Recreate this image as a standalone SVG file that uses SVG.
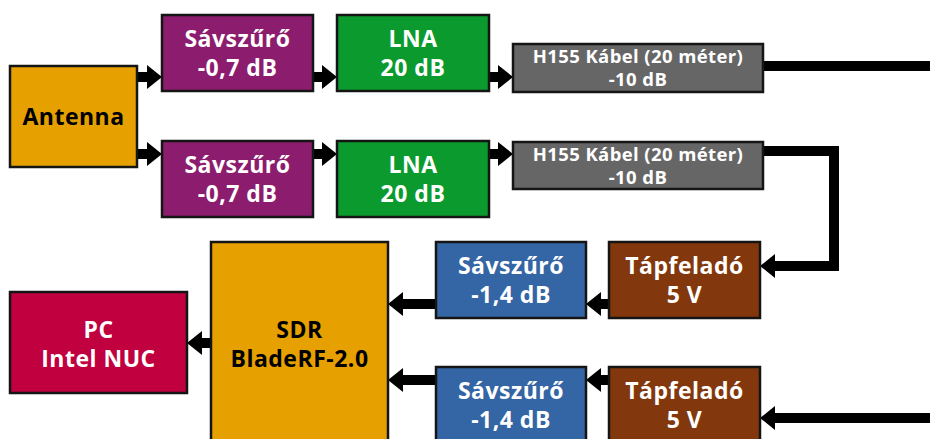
<svg xmlns="http://www.w3.org/2000/svg" width="930" height="439" viewBox="0 0 930 439">
<style>
.box{stroke:#151515;stroke-width:2.5}
.t{font-family:"Open Sans","Liberation Sans",sans-serif;font-weight:bold;font-size:23px;letter-spacing:0.5px;fill:#fff;text-anchor:middle}
.s{font-size:18.5px;letter-spacing:0.4px}
.dark{fill:#000}
.c{fill:none;stroke:#000;stroke-width:10}
</style>
<defs>
<marker id="ah" markerUnits="userSpaceOnUse" markerWidth="16" markerHeight="26" refX="0" refY="13" orient="auto" overflow="visible">
<path d="M0,1 L15,13 L0,25 z" fill="#000"/>
</marker>
</defs>
<rect width="930" height="439" fill="#fff"/>
<g id="connectors">
<path class="c" d="M137,77 H147" marker-end="url(#ah)"/>
<path class="c" d="M313,77 H322" marker-end="url(#ah)"/>
<path class="c" d="M489,77 H498" marker-end="url(#ah)"/>
<path class="c" d="M763,66 H930"/>
<path class="c" d="M137,154 H147" marker-end="url(#ah)"/>
<path class="c" d="M313,154 H322" marker-end="url(#ah)"/>
<path class="c" d="M489,154 H498" marker-end="url(#ah)"/>
<path class="c" d="M763,151 H834 V266 H775" marker-end="url(#ah)"/>
<path class="c" d="M609,304 H601" marker-end="url(#ah)"/>
<path class="c" d="M436,304 H403" marker-end="url(#ah)"/>
<path class="c" d="M930,418 H775" marker-end="url(#ah)"/>
<path class="c" d="M609,380 H601" marker-end="url(#ah)"/>
<path class="c" d="M436,380 H403" marker-end="url(#ah)"/>
<path class="c" d="M211,343 H202" marker-end="url(#ah)"/>
</g>
<g id="antenna">
<rect class="box" x="10" y="66" width="127" height="101" fill="#E6A100"/>
<text class="t dark" x="73.5" y="125">Antenna</text>
</g>
<g id="savszuro1">
<rect class="box" x="162" y="15" width="151" height="76" fill="#8C1C6D"/>
<text class="t" x="237.5" y="47">Sávszűrő</text>
<text class="t" x="237.5" y="76">-0,7 dB</text>
</g>
<g id="savszuro2">
<rect class="box" x="162" y="141" width="151" height="76" fill="#8C1C6D"/>
<text class="t" x="237.5" y="173">Sávszűrő</text>
<text class="t" x="237.5" y="202">-0,7 dB</text>
</g>
<g id="lna1">
<rect class="box" x="337" y="15" width="152" height="76" fill="#0B9A2D"/>
<text class="t" x="413" y="47">LNA</text>
<text class="t" x="413" y="76">20 dB</text>
</g>
<g id="lna2">
<rect class="box" x="337" y="141" width="152" height="76" fill="#0B9A2D"/>
<text class="t" x="413" y="173">LNA</text>
<text class="t" x="413" y="202">20 dB</text>
</g>
<g id="kabel1">
<rect class="box" x="513" y="44" width="250" height="48" fill="#666666"/>
<text class="t s" x="638" y="63">H155 Kábel (20 méter)</text>
<text class="t s" x="638" y="86">-10 dB</text>
</g>
<g id="kabel2">
<rect class="box" x="513" y="142" width="250" height="47" fill="#666666"/>
<text class="t s" x="638" y="161">H155 Kábel (20 méter)</text>
<text class="t s" x="638" y="184">-10 dB</text>
</g>
<g id="tapfelado1">
<rect class="box" x="609" y="242" width="151" height="76" fill="#82380C"/>
<text class="t" x="684.5" y="274">Tápfeladó</text>
<text class="t" x="684.5" y="303">5 V</text>
</g>
<g id="tapfelado2">
<rect class="box" x="609" y="367" width="151" height="76" fill="#82380C"/>
<text class="t" x="684.5" y="399">Tápfeladó</text>
<text class="t" x="684.5" y="428">5 V</text>
</g>
<g id="savszuro3">
<rect class="box" x="436" y="242" width="150" height="76" fill="#3465A4"/>
<text class="t" x="511" y="274">Sávszűrő</text>
<text class="t" x="511" y="303">-1,4 dB</text>
</g>
<g id="savszuro4">
<rect class="box" x="436" y="367" width="150" height="76" fill="#3465A4"/>
<text class="t" x="511" y="399">Sávszűrő</text>
<text class="t" x="511" y="428">-1,4 dB</text>
</g>
<g id="sdr">
<rect class="box" x="211" y="242" width="177" height="210" fill="#E6A100"/>
<text class="t dark" x="299.5" y="338">SDR</text>
<text class="t dark" x="299.5" y="367">BladeRF-2.0</text>
</g>
<g id="pc">
<rect class="box" x="10" y="292" width="177" height="101" fill="#C0003F"/>
<text class="t" x="98.5" y="338">PC</text>
<text class="t" x="98.5" y="367">Intel NUC</text>
</g>
</svg>
